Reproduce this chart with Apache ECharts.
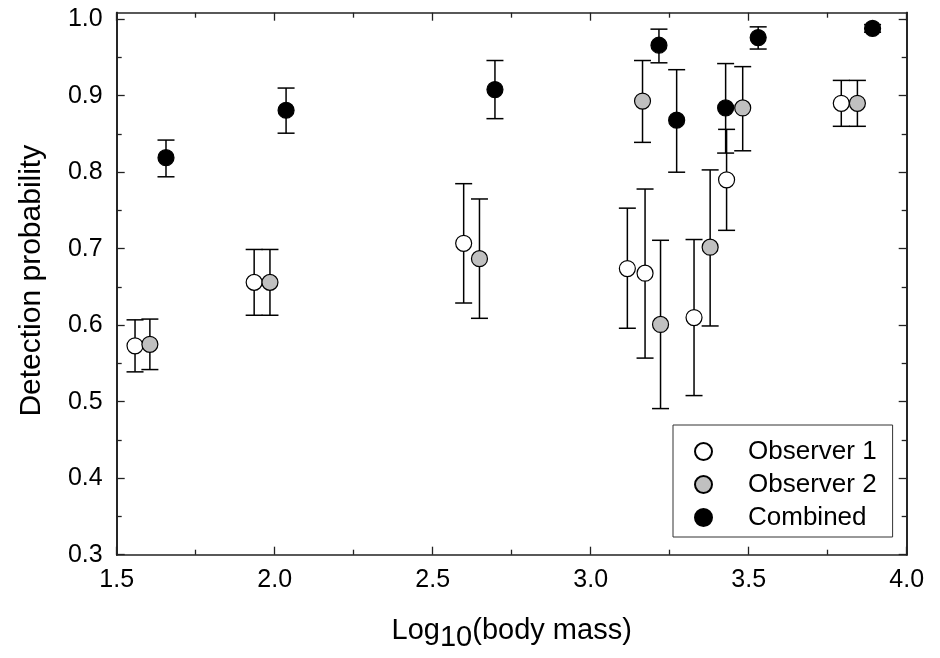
<!DOCTYPE html>
<html>
<head>
<meta charset="utf-8">
<script src="https://cdn.jsdelivr.net/npm/echarts@6/dist/echarts.min.js"></script>
<style>html,body{margin:0;padding:0;background:#fff;}#c{width:940px;height:658px;}</style>
</head>
<body>
<div id="c"></div>
<script>
// ---- data ----
const xMajorTicks = [1.5, 2.0, 2.5, 3.0, 3.5, 4.0];
const yMajorTicks = [0.3, 0.4, 0.5, 0.6, 0.7, 0.8, 0.9, 1.0];
const yMinorTicks = [0.35, 0.45, 0.55, 0.65, 0.75, 0.85, 0.95];

const obs1X  = [1.558, 1.935, 2.598, 3.116, 3.172, 3.327, 3.430, 3.793];
const obs1Y  = [0.573, 0.656, 0.707, 0.674, 0.668, 0.610, 0.790, 0.890];
const obs1Lo = [0.539, 0.613, 0.629, 0.596, 0.557, 0.508, 0.724, 0.860];
const obs1Hi = [0.607, 0.699, 0.785, 0.753, 0.778, 0.712, 0.856, 0.920];

const obs2X  = [1.605, 1.985, 2.648, 3.164, 3.221, 3.378, 3.481, 3.844];
const obs2Y  = [0.575, 0.656, 0.687, 0.893, 0.601, 0.702, 0.884, 0.890];
const obs2Lo = [0.542, 0.613, 0.609, 0.839, 0.491, 0.599, 0.828, 0.860];
const obs2Hi = [0.608, 0.699, 0.765, 0.946, 0.711, 0.803, 0.938, 0.920];

const combX  = [1.656, 2.036, 2.697, 3.216, 3.272, 3.427, 3.530, 3.892];
const combY  = [0.819, 0.881, 0.908, 0.966, 0.868, 0.884, 0.976, 0.988];
const combLo = [0.794, 0.851, 0.870, 0.943, 0.800, 0.825, 0.961, 0.983];
const combHi = [0.842, 0.910, 0.946, 0.987, 0.934, 0.942, 0.990, 0.993];

const seriesNames = ['Observer 1', 'Observer 2', 'Combined'];
const fills = ['#ffffff', '#c0c0c0', '#000000'];

// ---- build ----
const FONT = 'Liberation Sans, Arial, sans-serif';
const groups = [
  {x: obs1X, y: obs1Y, lo: obs1Lo, hi: obs1Hi},
  {x: obs2X, y: obs2Y, lo: obs2Lo, hi: obs2Hi},
  {x: combX, y: combY, lo: combLo, hi: combHi}
];
const YMIN = 0.3, YMAX = 1.0085;

function errRender(params, api) {
  const x = api.value(0), lo = api.value(1), hi = api.value(2);
  const pLo = api.coord([x, lo]);
  const pHi = api.coord([x, hi]);
  const cap = 8.5;
  const st = {stroke: '#000', lineWidth: 1.5};
  return {
    type: 'group',
    children: [
      {type: 'line', shape: {x1: pLo[0], y1: pLo[1], x2: pHi[0], y2: pHi[1]}, style: st},
      {type: 'line', shape: {x1: pLo[0] - cap, y1: pLo[1], x2: pLo[0] + cap, y2: pLo[1]}, style: st},
      {type: 'line', shape: {x1: pHi[0] - cap, y1: pHi[1], x2: pHi[0] + cap, y2: pHi[1]}, style: st}
    ]
  };
}

const series = [];
groups.forEach((g, i) => {
  series.push({
    type: 'custom',
    renderItem: errRender,
    xAxisIndex: 0, yAxisIndex: 0,
    data: g.x.map((v, k) => [v, g.lo[k], g.hi[k]]),
    encode: {x: 0, y: [1, 2]},
    z: 2,
    silent: true
  });
});
groups.forEach((g, i) => {
  series.push({
    type: 'scatter',
    name: seriesNames[i],
    xAxisIndex: 0, yAxisIndex: 0,
    data: g.x.map((v, k) => [v, g.y[k]]),
    symbol: 'circle',
    symbolSize: 16,
    itemStyle: {color: fills[i], borderColor: '#000', borderWidth: 1.2, opacity: 1},
    z: 5,
    silent: true
  });
});

const lineStyle = {color: '#222', width: 1.7};

function xAx(pos, showLabel, name) {
  return {
    type: 'value', position: pos, min: 1.5, max: 4.0, interval: 0.5,
    axisLine: {show: true, onZero: false, lineStyle: lineStyle},
    axisTick: {show: true, inside: true, length: 8, lineStyle: {color: '#222', width: 1.3}},
    minorTick: {show: true, splitNumber: 2, length: 5, lineStyle: {color: '#222', width: 1.3}},
    splitLine: {show: false}, minorSplitLine: {show: false},
    axisLabel: {show: showLabel, fontSize: 25, fontFamily: FONT, color: '#000', margin: 13,
      formatter: v => v.toFixed(1)},
    name: name || '',
    nameLocation: 'middle',
    nameGap: 62,
    nameTextStyle: {
      fontFamily: FONT, color: '#000',
      rich: {
        a: {fontSize: 29, fontFamily: FONT, color: '#000', padding: [0, 0, 7, 0]},
        b: {fontSize: 29, fontFamily: FONT, color: '#000', padding: [7, 0, 0, 0]}
      }
    }
  };
}
function yAx(pos, showLabel, ticks, len, name) {
  return {
    type: 'value', position: pos, min: YMIN, max: YMAX,
    axisLine: {show: true, onZero: false, lineStyle: lineStyle},
    axisTick: {show: true, inside: true, length: len, customValues: ticks, lineStyle: {color: '#222', width: 1.3}},
    splitLine: {show: false},
    axisLabel: {show: showLabel, customValues: yMajorTicks, fontSize: 25, fontFamily: FONT, color: '#000', margin: 14,
      formatter: v => v.toFixed(1)},
    name: name || '',
    nameLocation: 'middle',
    nameGap: 70,
    nameTextStyle: {fontSize: 30, fontFamily: FONT, color: '#000', padding: [0, 0, 0, 6]}
  };
}

const option = {
  backgroundColor: '#fff',
  animation: false,
  grid: {left: 116.7, right: 33.3, top: 12.7, bottom: 103.3, containLabel: false},
  xAxis: [
    xAx('bottom', true, '{a|Log}{b|10}{a|(body mass)}'),
    xAx('top', false)
  ],
  yAxis: [
    yAx('left', true, yMajorTicks, 8, 'Detection probability'),
    yAx('left', false, yMinorTicks, 5),
    yAx('right', false, yMajorTicks, 8),
    yAx('right', false, yMinorTicks, 5)
  ],
  legend: {
    show: true,
    data: seriesNames,
    orient: 'vertical',
    left: 673, top: 425,
    padding: [11, 16, 4, 21],
    itemWidth: 17, itemHeight: 17,
    itemGap: 2,
    borderColor: '#333', borderWidth: 1,
    backgroundColor: '#fff',
    textStyle: {fontSize: 26, fontFamily: FONT, color: '#000', lineHeight: 31, padding: [0, 0, 0, 31]},
    selectedMode: false
  },
  series: series
};

const chart = echarts.init(document.getElementById('c'), null, {renderer: 'canvas'});
chart.setOption(option);
</script>
</body>
</html>
